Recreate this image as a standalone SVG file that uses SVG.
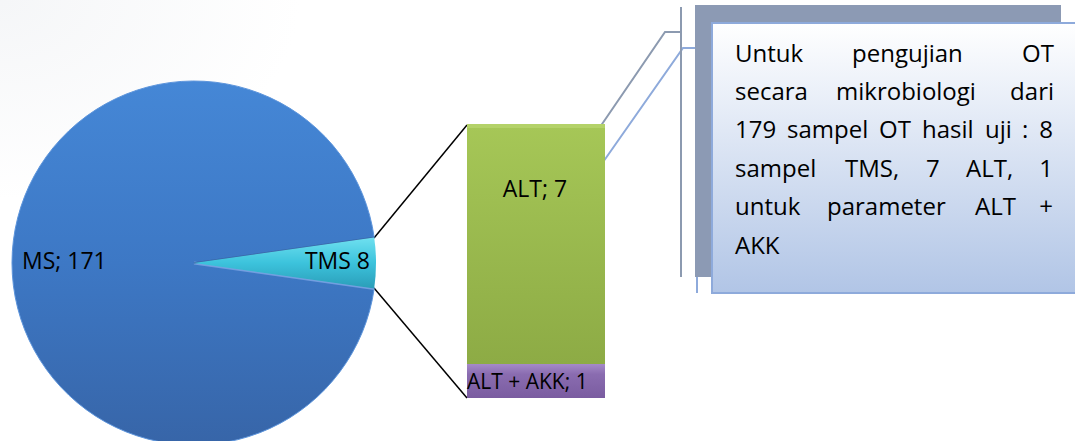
<svg xmlns="http://www.w3.org/2000/svg" width="1075" height="441" viewBox="0 0 1075 441">
<defs>
<style>
.t{font-family:"Open Sans","Liberation Sans",sans-serif;fill:#000}
.big{font-size:23px}
.box{font-size:24px}
.conn{stroke:#000;stroke-width:1.5;fill:none}
</style>
<linearGradient id="gMS" x1="0" y1="0" x2="0" y2="1">
<stop offset="0" stop-color="#4587d6"/>
<stop offset="0.5" stop-color="#3d78c5"/>
<stop offset="1" stop-color="#3765a8"/>
</linearGradient>
<linearGradient id="gTMS" x1="0" y1="0" x2="0" y2="1">
<stop offset="0" stop-color="#6fe0f0"/>
<stop offset="0.5" stop-color="#3cc3dc"/>
<stop offset="1" stop-color="#2a9db8"/>
</linearGradient>
<linearGradient id="gALT" x1="0" y1="0" x2="0" y2="1">
<stop offset="0" stop-color="#a6c757"/>
<stop offset="1" stop-color="#8dab45"/>
</linearGradient>
<linearGradient id="gAKK" x1="0" y1="0" x2="0" y2="1">
<stop offset="0" stop-color="#a58ac8"/>
<stop offset="0.3" stop-color="#8a6cb0"/>
<stop offset="1" stop-color="#7a5ca0"/>
</linearGradient>
<linearGradient id="gBox" x1="0" y1="0" x2="0" y2="1">
<stop offset="0" stop-color="#ffffff"/>
<stop offset="1" stop-color="#b1c5e6"/>
</linearGradient>
<radialGradient id="gBg" cx="0" cy="0" r="1">
<stop offset="0" stop-color="#eef0f3"/>
<stop offset="1" stop-color="#ffffff"/>
</radialGradient>
</defs>
<rect width="1075" height="441" fill="#ffffff"/>
<rect width="300" height="200" fill="url(#gBg)" opacity="0.6"/>

<g id="connectors">
<line class="conn" x1="374" y1="238" x2="467" y2="125"/>
<line class="conn" x1="374" y1="288" x2="467" y2="398"/>
<polyline points="681,32 665,32 585,149" fill="none" stroke="#8c9ab0" stroke-width="2"/>
<polyline points="697,48 683,48 601,165" fill="none" stroke="#8eaadb" stroke-width="2"/>
<line x1="681" y1="7" x2="681" y2="277" stroke="#8c9ab0" stroke-width="2"/>
<line x1="697" y1="23" x2="697" y2="293" stroke="#8eaadb" stroke-width="2"/>
</g>

<g id="pie">
<path id="ms" d="M194,263 L374.2,237.5 A182,182 0 1,0 374.2,288.5 Z" fill="url(#gMS)" stroke="#5d95dc" stroke-width="1"/>
<path d="M194,263 L374.2,288.5" stroke="#7ea6e6" stroke-width="3" opacity="0.8"/>
<path d="M194,263 L374.2,237.5" stroke="#2c5590" stroke-width="1.5" opacity="0.7"/>
<path id="tms" d="M194,263 L374.2,237.5 A182,182 0 0,1 374.2,288.5 Z" fill="url(#gTMS)"/>
<text class="t big" x="22" y="269">MS; 171</text>
<text class="t big" x="370" y="269" text-anchor="end">TMS 8</text>
</g>

<g id="bar">
<rect id="alt" x="467" y="124" width="138" height="240" fill="url(#gALT)"/>
<rect x="467" y="124" width="138" height="4" fill="#b8d46e" opacity="0.8"/>
<rect id="akk" x="467" y="364" width="138" height="34" fill="url(#gAKK)"/>
<text class="t big" x="535" y="197" text-anchor="middle">ALT; 7</text>
<text class="t" style="font-size:21px" x="467" y="389">ALT + AKK; 1</text>
</g>

<g id="note">
<rect x="695" y="5" width="366" height="272" fill="#8c9ab4"/>
<rect x="712" y="23" width="364" height="270" fill="url(#gBox)" stroke="#8eaadb" stroke-width="2"/>
<g class="t box">
<text x="735" y="62">Untuk</text>
<text x="852" y="62">pengujian</text>
<text x="1054" y="62" text-anchor="end">OT</text>
<text x="735" y="100">secara</text>
<text x="836" y="100">mikrobiologi</text>
<text x="1054" y="100" text-anchor="end">dari</text>
<text x="735" y="138">179</text>
<text x="787" y="138">sampel</text>
<text x="879" y="138">OT</text>
<text x="922" y="138">hasil</text>
<text x="985" y="138">uji</text>
<text x="1022" y="138">:</text>
<text x="1053" y="138" text-anchor="end">8</text>
<text x="735" y="177">sampel</text>
<text x="845" y="177">TMS,</text>
<text x="926" y="177">7</text>
<text x="966" y="177">ALT,</text>
<text x="1053" y="177" text-anchor="end">1</text>
<text x="735" y="215">untuk</text>
<text x="827" y="215">parameter</text>
<text x="975" y="215">ALT</text>
<text x="1053" y="215" text-anchor="end">+</text>
<text x="735" y="254">AKK</text>
</g>
</g>
</svg>
